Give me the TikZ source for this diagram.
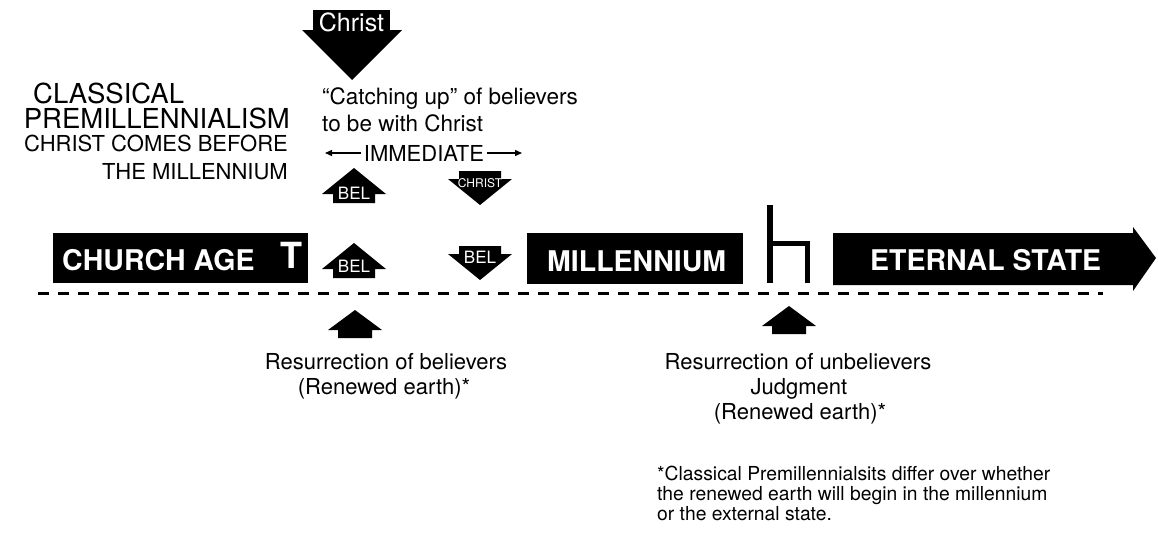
\documentclass[tikz,border=0pt]{standalone}
\usepackage{fontspec}
\setmainfont{TeX Gyre Heros}
\usetikzlibrary{arrows.meta}
\newcommand\fsz[1]{\fontsize{#1}{#1}\selectfont}
\tikzset{
  txt/.style={inner sep=0pt, text=black},
  wtxt/.style={inner sep=0pt, text=white},
  blk/.style={fill=black, draw=none, inner sep=0pt},
  immarrow/.style={line width=1.3, -{Triangle[length=7pt,width=6pt]}},
  timeline/.style={line width=3, dash pattern=on 10.5pt off 9.5pt},
  seat/.style={line width=5.5, line cap=butt, line join=miter},
  belup/.pic={\fill (0,0) -- (32,26) -- (21,26) -- (21,35) -- (-21,35) -- (-21,26) -- (-32,26) -- cycle;},
  beldown/.pic={\fill (0,0) -- (32,-26) -- (21,-26) -- (21,-34) -- (-21,-34) -- (-21,-26) -- (-32,-26) -- cycle;},
  resup/.pic={\fill (0,0) -- (27,20) -- (17,20) -- (17,28) -- (-17,28) -- (-17,20) -- (-27,20) -- cycle;},
}
\begin{document}
\begin{tikzpicture}[x=1pt,y=-1pt]
\useasboundingbox (0,0) rectangle (1158,533);

% title
\node[txt, font=\fsz{27.5}, anchor=base west] (t1) at (33,103) {CLASSICAL};
\node[txt, font=\fsz{27.5}, anchor=base east] (t2) at (290,128) {PREMILLENNIALISM};
\node[txt, font=\fsz{22}, anchor=base east] (t3) at (288,151) {CHRIST COMES BEFORE};
\node[txt, font=\fsz{22}, anchor=base east] (t4) at (288,179) {THE MILLENNIUM};

% Christ arrow
\fill (313,10) rectangle (390,31);
\fill (302,30) -- (402,30) -- (352,80) -- cycle;
\node[wtxt, font=\fsz{25}, anchor=base] (christ) at (351.5,31) {Christ};

% catching up
\node[txt, font=\fsz{22.5}, anchor=base west] (c1) at (322,104) {“Catching up” of believers};
\node[txt, font=\fsz{22.5}, anchor=base west] (c2) at (322,131) {to be with Christ};

% immediate
\node[txt, font=\fsz{22}, inner sep=2.5pt] (imm) at (424,153) {IMMEDIATE};
\coordinate (iml) at (325,153);
\coordinate (imr) at (522,153);
\draw[immarrow] (imm.west) -- (iml);
\draw[immarrow] (imm.east) -- (imr);

% BEL / CHRIST arrows
\pic at (354,168) {belup};
\node[wtxt, font=\fsz{17}] (bel1) at (354,193) {BEL};
\pic at (354,243) {belup};
\node[wtxt, font=\fsz{17}] (bel2) at (354,266) {BEL};
\pic at (480,205) {beldown};
\node[wtxt, font=\fsz{12}] (chr2) at (480,183) {CHRIST};
\pic at (480,280) {beldown};
\node[wtxt, font=\fsz{17}] (bel3) at (480,257) {BEL};

% timeline boxes
\node[blk, minimum width=255, minimum height=50, anchor=north west] (church) at (53,233) {};
\node[wtxt, font=\bfseries\fsz{28.5}, anchor=base west] (churcht) at (62,270) {CHURCH AGE};
\node[wtxt, font=\bfseries\fsz{36}, anchor=base] (tee) at (291,268) {T};

\node[blk, minimum width=216, minimum height=51, anchor=north west] (mill) at (527,233) {};
\node[wtxt, font=\bfseries\fsz{28.5}, anchor=base west] (millt) at (547,271) {MILLENNIUM};

% judgment seat
\draw[seat] (770,205) -- (770,283) (770,243.5) -- (807.5,243.5) -- (807.5,283);

% eternal state
\fill (833,233) -- (1133,233) -- (1133,227) -- (1156,258) -- (1133,291) -- (1133,285) -- (833,285) -- cycle;
\node[wtxt, font=\bfseries\fsz{28.5}, anchor=base west] (etern) at (870,270) {ETERNAL STATE};

% dashed time line
\coordinate (tl0) at (38,293);
\coordinate (tl1) at (1103,293);
\draw[timeline] (tl0) -- (tl1);

% resurrection arrows
\pic at (355,310) {resup};
\node[txt, font=\fsz{22}, anchor=base] (r1) at (386,369) {Resurrection of believers};
\node[txt, font=\fsz{22}, anchor=base] (r2) at (384,394) {(Renewed earth)*};

\pic at (789,306) {resup};
\node[txt, font=\fsz{22}, anchor=base] (u1) at (798,369) {Resurrection of unbelievers};
\node[txt, font=\fsz{22}, anchor=base] (u2) at (799,394) {Judgment};
\node[txt, font=\fsz{22}, anchor=base] (u3) at (800,419) {(Renewed earth)*};

% footnote
\node[txt, font=\fsz{19.3}, anchor=base west] (f1) at (657,480) {*Classical Premillennialsits differ over whether};
\node[txt, font=\fsz{19.3}, anchor=base west] (f2) at (657,500) {the renewed earth will begin in the millennium};
\node[txt, font=\fsz{19.3}, anchor=base west] (f3) at (657,520) {or the external state.};
\end{tikzpicture}
\end{document}
